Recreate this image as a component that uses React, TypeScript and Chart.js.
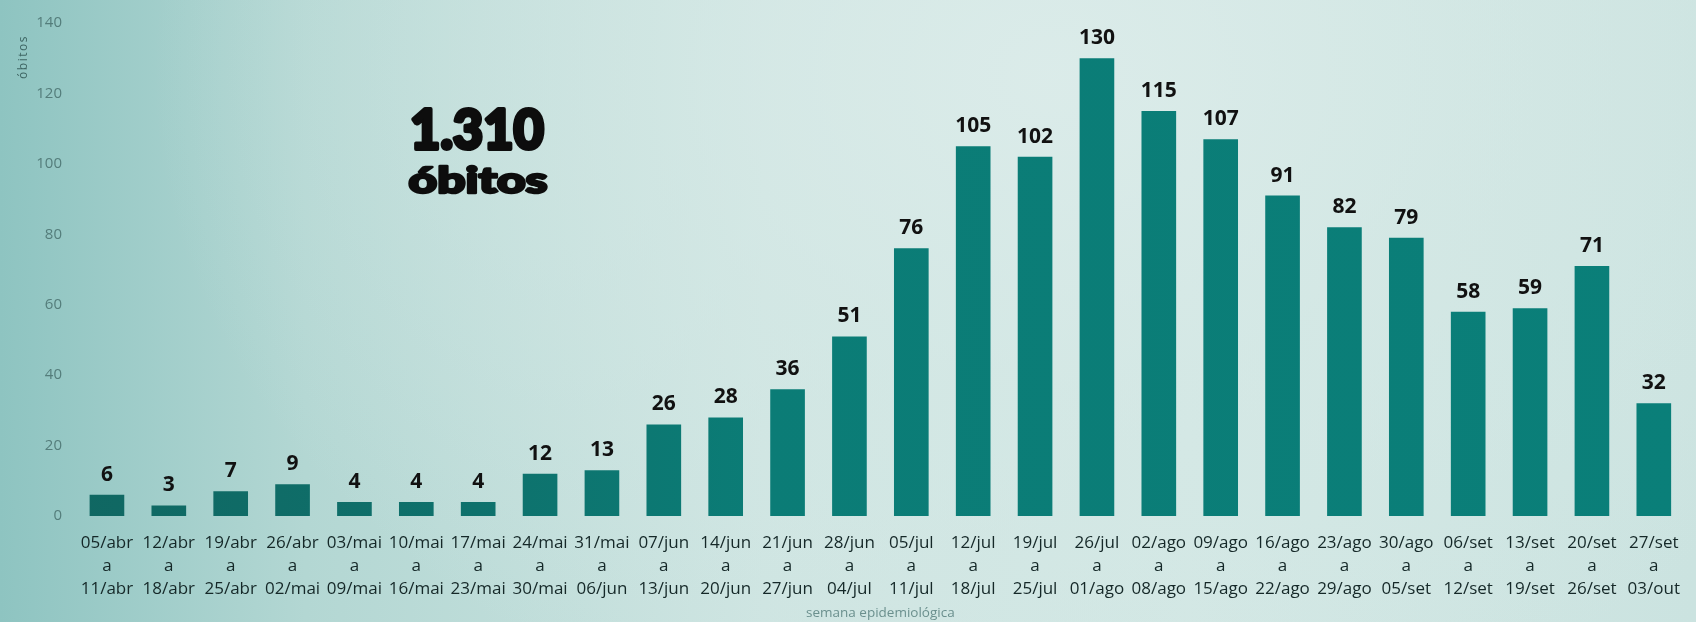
import React, { useEffect, useRef } from 'react';
import { Chart, registerables } from 'chart.js';

Chart.register(...registerables);

const weekStarts = ['05/abr', '12/abr', '19/abr', '26/abr', '03/mai', '10/mai', '17/mai', '24/mai', '31/mai', '07/jun', '14/jun', '21/jun', '28/jun', '05/jul', '12/jul', '19/jul', '26/jul', '02/ago', '09/ago', '16/ago', '23/ago', '30/ago', '06/set', '13/set', '20/set', '27/set'];
const weekEnds = ['11/abr', '18/abr', '25/abr', '02/mai', '09/mai', '16/mai', '23/mai', '30/mai', '06/jun', '13/jun', '20/jun', '27/jun', '04/jul', '11/jul', '18/jul', '25/jul', '01/ago', '08/ago', '15/ago', '22/ago', '29/ago', '05/set', '12/set', '19/set', '26/set', '03/out'];
const deaths = [6, 3, 7, 9, 4, 4, 4, 12, 13, 26, 28, 36, 51, 76, 105, 102, 130, 115, 107, 91, 82, 79, 58, 59, 71, 32];

const yMin = 0;
const yMax = 140;
const yStep = 20;

const totalValue = '1.310';
const totalUnit = 'óbitos';
const yTitle = 'óbitos';
const xTitle = 'semana epidemiológica';

const FONT = '"Open Sans", "DejaVu Sans", sans-serif';

const overlayPlugin = {
  id: 'overlay',
  afterDatasetsDraw(chart: any) {
    const { ctx, chartArea } = chart;
    const meta = chart.getDatasetMeta(0);
    ctx.save();
    // value labels
    ctx.fillStyle = '#111111';
    ctx.font = `700 21px ${FONT}`;
    ctx.textAlign = 'center';
    ctx.textBaseline = 'alphabetic';
    meta.data.forEach((bar: any, i: number) => {
      ctx.fillText(String(deaths[i]), bar.x, bar.y - 14);
    });

    // big total text
    const drawFit = (text: string, font: string, cx: number, baseline: number, targetW: number, stroke: number) => {
      ctx.save();
      ctx.font = font;
      const w = ctx.measureText(text).width;
      ctx.translate(cx, baseline);
      ctx.scale(targetW / w, 1);
      ctx.textAlign = 'center';
      ctx.lineJoin = 'round';
      ctx.lineWidth = stroke;
      ctx.strokeStyle = '#0d0d0d';
      ctx.strokeText(text, 0, 0);
      ctx.fillText(text, 0, 0);
      ctx.restore();
    };
    ctx.fillStyle = '#0d0d0d';
    drawFit(totalValue, `900 56px Lato, ${FONT}`, 477, 149, 134, 4);
    drawFit(totalUnit, `900 36px Lato, ${FONT}`, 478, 193, 139, 2.5);

    // y title
    ctx.save();
    ctx.fillStyle = '#3f6664';
    ctx.font = `12px ${FONT}`;
    (ctx as any).letterSpacing = '1.5px';
    ctx.translate(24, 57);
    ctx.rotate(-Math.PI / 2);
    ctx.textAlign = 'center';
    ctx.textBaseline = 'middle';
    ctx.fillText(yTitle, 0, 0);
    ctx.restore();

    // x title
    ctx.fillStyle = '#6b908e';
    ctx.font = `13.5px ${FONT}`;
    ctx.textAlign = 'center';
    ctx.textBaseline = 'middle';
    ctx.fillText(xTitle, (chartArea.left + chartArea.right) / 2, 613);
    ctx.restore();
  },
};

export default function App() {
  const canvasRef = useRef<HTMLCanvasElement | null>(null);

  useEffect(() => {
    document.body.style.margin = '0';
    const canvas = canvasRef.current;
    if (!canvas) return;
    const chart = new Chart(canvas, {
      type: 'bar',
      data: {
        labels: weekStarts.map((s, i) => [s, 'a', weekEnds[i]]),
        datasets: [
          {
            data: deaths,
            backgroundColor: (c: any) => {
              const area = c.chart.chartArea;
              if (!area) return '#0b7c76';
              const g = c.chart.ctx.createLinearGradient(area.left, 0, area.right, 0);
              g.addColorStop(0, '#106762');
              g.addColorStop(0.25, '#0e716c');
              g.addColorStop(0.42, '#0b7c76');
              g.addColorStop(1, '#0a7f79');
              return g;
            },
            borderWidth: 0,
            categoryPercentage: 0.8,
            barPercentage: 0.7,
          },
        ],
      },
      options: {
        responsive: true,
        maintainAspectRatio: false,
        animation: false,
        layout: { padding: { top: 19, left: 0, right: 0, bottom: 0 } },
        plugins: {
          legend: { display: false },
          tooltip: { enabled: false },
          title: { display: false },
        },
        scales: {
          x: {
            offset: true,
            grid: { display: false, drawTicks: false, tickLength: 0 },
            border: { display: false },
            ticks: {
              autoSkip: false,
              maxRotation: 0,
              minRotation: 0,
              padding: 16,
              color: '#152828',
              font: { family: FONT, size: 17, lineHeight: 1.353 },
            },
            afterFit: (scale: any) => {
              scale.height = 106;
            },
          },
          y: {
            min: yMin,
            max: yMax,
            grid: { display: false, drawTicks: false, tickLength: 0 },
            border: { display: false },
            ticks: {
              stepSize: yStep,
              padding: 14,
              color: '#547d7b',
              font: { family: FONT, size: 15 },
            },
            afterFit: (scale: any) => {
              scale.width = 76;
            },
          },
        },
      },
      plugins: [overlayPlugin],
    });
    return () => chart.destroy();
  }, []);

  return (
    <div
      style={{
        position: 'fixed',
        left: 0,
        top: 0,
        width: '1696px',
        height: '622px',
        background:
          'radial-gradient(ellipse 900px 700px at 62% 12%, rgba(220,236,234,0.9) 0%, rgba(214,233,230,0.6) 45%, rgba(214,233,230,0) 100%), linear-gradient(to right, #8ec4c1 0%, #b3d7d3 18%, #cde4e1 45%, #d2e7e4 70%, #cbe3e0 100%)',
      }}
    >
      <canvas ref={canvasRef} />
    </div>
  );
}
